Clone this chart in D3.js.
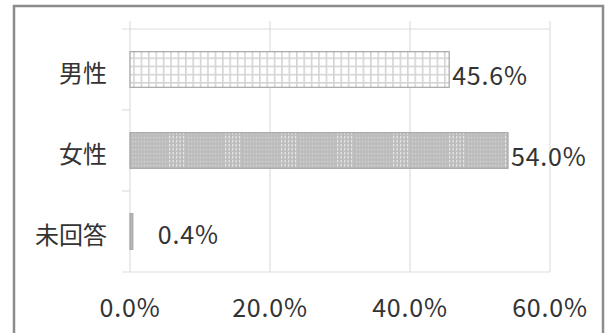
<!DOCTYPE html>
<html>
<head>
<meta charset="utf-8">
<script src="https://cdn.jsdelivr.net/npm/d3@7"></script>
<style>
  html, body { margin: 0; padding: 0; background: #fff; }
  svg { display: block; }
  text { font-family: "Noto Sans CJK JP", "Noto Sans", sans-serif; fill: #333; }
</style>
</head>
<body>
<svg class="chart" width="607" height="333"></svg>
<script>

// data
const categories = ['男性', '女性', '未回答'];
const values = [45.6, 54.0, 0.4];
const patterns = ['grid', 'stripes', 'solid'];
const xTicks = [0, 20, 40, 60];

const main = {};

main.svg = d3.select('.chart');

// outer frame
main.svg.append('rect')
    .attr('x', 14).attr('y', 6)
    .attr('width', 589).attr('height', 340)
    .attr('fill', 'none')
    .attr('stroke', '#8c8c8c')
    .attr('stroke-width', 2.5);

const plot = { left: 130, right: 550, top: 29, bottom: 272 };

const x = d3.scaleLinear()
    .domain([0, 60])
    .range([plot.left, plot.right]);

const y = d3.scaleBand()
    .domain(categories)
    .range([plot.top, plot.bottom])
    .paddingInner(0.56)
    .paddingOuter(0.28);

// patterns
const defs = main.svg.append('defs');

const grid = defs.append('pattern')
    .attr('id', 'pat-grid')
    .attr('patternUnits', 'userSpaceOnUse')
    .attr('width', 7.4).attr('height', 8.2);
grid.append('rect').attr('width', 7.4).attr('height', 8.2).attr('fill', '#fff');
grid.append('rect').attr('width', 1.6).attr('height', 8.2).attr('fill', '#d4d4d4');
grid.append('rect').attr('width', 7.4).attr('height', 1.6).attr('fill', '#d4d4d4');

const stripes = defs.append('pattern')
    .attr('id', 'pat-stripes')
    .attr('patternUnits', 'userSpaceOnUse')
    .attr('width', 56).attr('height', 4);
stripes.append('rect').attr('width', 56).attr('height', 4).attr('fill', '#bdbdbd');
// vertical stripe group
[1, 4.5, 8, 11.5, 15].forEach(sx => {
    stripes.append('rect')
        .attr('x', sx).attr('y', 0)
        .attr('width', 1.2).attr('height', 2.6)
        .attr('fill', '#e6e6e6');
});
// textured part
d3.range(20, 55, 3).forEach(sx => {
    stripes.append('rect')
        .attr('x', sx).attr('y', 1)
        .attr('width', 1.2).attr('height', 1.2)
        .attr('fill', '#d6d6d6');
});

defs.append('pattern')
    .attr('id', 'pat-solid')
    .attr('patternUnits', 'userSpaceOnUse')
    .attr('width', 4).attr('height', 4)
    .append('rect').attr('width', 4).attr('height', 4).attr('fill', '#b8b8b8');

// gridlines
main.svg.append('g')
    .selectAll('line')
    .data(xTicks)
    .join('line')
    .attr('x1', d => x(d)).attr('x2', d => x(d))
    .attr('y1', plot.top - 8).attr('y2', plot.bottom)
    .attr('stroke', '#dedede')
    .attr('stroke-width', 1.2);

// horizontal frame lines of the plot
[plot.top, plot.bottom].forEach(py => {
    main.svg.append('line')
        .attr('x1', plot.left - 8).attr('x2', plot.right)
        .attr('y1', py).attr('y2', py)
        .attr('stroke', '#dedede')
        .attr('stroke-width', 1.2);
});

// category boundary ticks
const bounds = categories.slice(1).map(c => y(c) - y.step() * y.paddingInner() / 2);
main.svg.append('g')
    .selectAll('line')
    .data(bounds)
    .join('line')
    .attr('x1', plot.left - 8).attr('x2', plot.left)
    .attr('y1', d => d).attr('y2', d => d)
    .attr('stroke', '#dedede')
    .attr('stroke-width', 1.2);

// bars
main.svg.append('g')
    .selectAll('rect')
    .data(values)
    .join('rect')
    .attr('x', x(0))
    .attr('y', (d, i) => y(categories[i]))
    .attr('width', d => x(d) - x(0))
    .attr('height', y.bandwidth())
    .attr('fill', (d, i) => 'url(#pat-' + patterns[i] + ')')
    .attr('stroke', '#a6a6a6')
    .attr('stroke-width', 1.2);

// value labels
main.svg.append('g')
    .selectAll('text')
    .data(values)
    .join('text')
    .attr('x', d => x(d) + (x(d) - x(0) < 20 ? 25 : 3))
    .attr('y', (d, i) => y(categories[i]) + y.bandwidth() / 2 + (i < 2 ? 4 : 1))
    .attr('dominant-baseline', 'central')
    .attr('font-size', 25)
    .attr('letter-spacing', 0.8)
    .text(d => d.toFixed(1) + '%');

// category labels
main.svg.append('g')
    .selectAll('text')
    .data(categories)
    .join('text')
    .attr('x', plot.left - 23)
    .attr('y', d => y(d) + y.bandwidth() / 2 + 2)
    .attr('text-anchor', 'end')
    .attr('dominant-baseline', 'central')
    .attr('font-size', 24)
    .text(d => d);

// x tick labels
main.svg.append('g')
    .selectAll('text')
    .data(xTicks)
    .join('text')
    .attr('x', d => x(d))
    .attr('y', 306)
    .attr('text-anchor', 'middle')
    .attr('dominant-baseline', 'central')
    .attr('font-size', 25)
    .attr('letter-spacing', 0.8)
    .text(d => d.toFixed(1) + '%');

</script>
</body>
</html>
